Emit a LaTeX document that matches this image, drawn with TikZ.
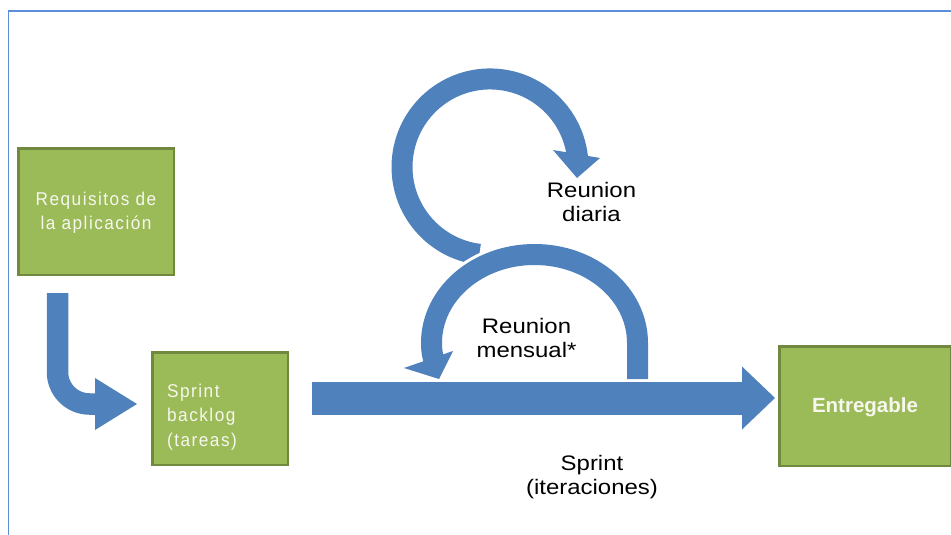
\documentclass[tikz,border=0pt]{standalone}
\usepackage{fontspec}
\setmainfont{Liberation Sans}
\newfontfamily\boxfont[LetterSpace=8,FakeStretch=0.93]{Liberation Sans}
\newfontfamily\lblfont[FakeStretch=1.14]{Liberation Sans}
\usetikzlibrary{arrows.meta}
\definecolor{arrowblue}{HTML}{4F81BD}
\definecolor{boxgreen}{HTML}{9BBB59}
\definecolor{boxedge}{HTML}{71893F}
\definecolor{framecol}{HTML}{5B8FD9}
\definecolor{boxtext}{HTML}{F7F7EE}
\tikzset{
  gbox/.style={draw=boxedge, fill=boxgreen, line width=2.5pt, inner sep=0pt},
  boxtxt/.style={text=boxtext, inner sep=0pt, font=\boxfont\fontsize{18.5}{24.5}\selectfont},
  lbl/.style={text=black, inner sep=0pt, align=center, font=\lblfont\fontsize{21}{24.5}\selectfont},
  blockarrow/.style={arrowblue, line width=#1},
}
\begin{document}
\begin{tikzpicture}[x=1pt,y=-1pt]
\useasboundingbox (0,0) rectangle (951,535);
\fill[white] (0,0) rectangle (951,535);
% frame
\draw[framecol, line width=1.5pt] (8.5,536) -- (8.5,11) -- (952,11);

% boxes
\node[gbox, minimum width=155.5pt, minimum height=126.5pt] (req) at (96,211.5) {};
\node[gbox, minimum width=135.5pt, minimum height=112.5pt] (bl) at (220,408.5) {};
\node[gbox, minimum width=171.5pt, minimum height=119.5pt] (ent) at (865,406) {};

% box texts (anchor base = baseline of the last line)
\node[boxtxt, align=center, anchor=base] (reqtxt) at (96,229.5) {Requisitos de\\la aplicación};
\node[boxtxt, align=left, anchor=base west] (bltxt) at (167,446) {Sprint\\backlog\\(tareas)};
\node[text=boxtext, inner sep=0pt, anchor=base, font=\bfseries\fontsize{20.5}{24}\selectfont] (enttxt) at (865,412) {Entregable};

% daily loop
\coordinate (dstart) at (479.3,254.3);
\draw[blockarrow=21pt] (dstart) arc[start angle=97, end angle=355, radius=88];
\fill[arrowblue] (553,150) -- (600,158) -- (577,178) -- cycle;

% monthly arc (white outline then blue)
\coordinate (mstart) at (637.5,379);
\coordinate (mend) at (435,363);
\draw[white, line width=27pt] (mstart) -- (637.5,343) .. controls (637.5,294) and (591.4,254.5) .. (534.5,254.5) .. controls (477.6,254.5) and (431.5,294) .. (431.5,343) .. controls (431.5,352) and (433,358) .. (mend);
\draw[blockarrow=21pt] (mstart) -- (637.5,343) .. controls (637.5,294) and (591.4,254.5) .. (534.5,254.5) .. controls (477.6,254.5) and (431.5,294) .. (431.5,343) .. controls (431.5,352) and (433,358) .. (mend);
\fill[arrowblue] (404,368) -- (453,351) -- (439,379) -- cycle;

% main sprint arrow
\coordinate (m0) at (312,398);
\draw[blockarrow=33pt, -{Triangle[width=63pt,length=33pt,line width=0pt]}, shorten >=3pt] (m0) -- (m0 -| ent.west);

% L arrow from requisitos to backlog
\coordinate (l0) at (57.5,293);
\coordinate (l1) at (137,404);
\draw[blockarrow=21.5pt, rounded corners=32pt, -{Triangle[width=52pt,length=42pt,line width=0pt]}] (l0) |- (l1);

% labels (anchor base = baseline of the last line)
\node[lbl, anchor=base] (diaria) at (591.5,221.5) {Reunion\\diaria};
\node[lbl, anchor=base] (mensual) at (526.5,357.5) {Reunion\\mensual*};
\node[lbl, anchor=base] (sprint) at (592,494.5) {Sprint\\(iteraciones)};
\end{tikzpicture}
\end{document}
